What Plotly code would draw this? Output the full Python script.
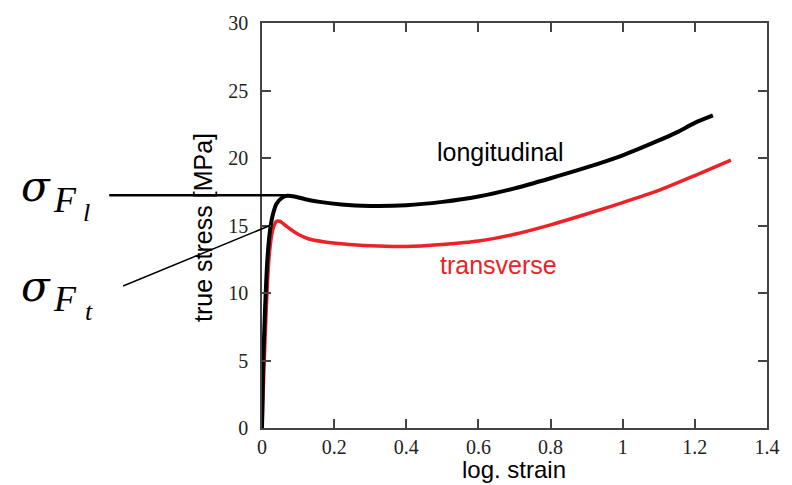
import plotly.graph_objects as go

long_x = [0, 0.003, 0.008, 0.015, 0.022, 0.03, 0.04, 0.055, 0.07, 0.09, 0.12, 0.16, 0.22, 0.3,
          0.4, 0.5, 0.6, 0.7, 0.8, 0.9, 1.0, 1.1, 1.15, 1.2, 1.25]
long_y = [0, 4.5, 8.5, 12.5, 14.6, 15.8, 16.6, 17.05, 17.2, 17.15, 16.95, 16.75, 16.55, 16.45,
          16.5, 16.75, 17.15, 17.75, 18.5, 19.3, 20.2, 21.3, 21.9, 22.6, 23.15]

trans_x = [0, 0.005, 0.012, 0.02, 0.03, 0.04, 0.05, 0.065, 0.08, 0.1, 0.13, 0.17, 0.22, 0.3,
           0.4, 0.5, 0.6, 0.7, 0.8, 0.9, 1.0, 1.1, 1.2, 1.3]
trans_y = [0, 4, 9, 12.8, 14.7, 15.3, 15.3, 15.0, 14.7, 14.35, 14.0, 13.8, 13.65, 13.5,
           13.45, 13.6, 13.85, 14.35, 15.05, 15.85, 16.7, 17.6, 18.7, 19.85]

x_ticks = [0, 0.2, 0.4, 0.6, 0.8, 1, 1.2, 1.4]
x_tick_labels = ["0", "0.2", "0.4", "0.6", "0.8", "1", "1.2", "1.4"]
y_ticks = [0, 5, 10, 15, 20, 25, 30]

RED = "#ec2227"
SERIF = "Liberation Serif"
SANS = "Liberation Sans"

fig = go.Figure()
fig.add_trace(go.Scatter(x=trans_x, y=trans_y, mode="lines",
                         line=dict(color=RED, width=3.5, shape="spline", smoothing=0.6),
                         name="transverse", showlegend=False))
fig.add_trace(go.Scatter(x=long_x, y=long_y, mode="lines",
                         line=dict(color="black", width=4, shape="spline", smoothing=0.6),
                         name="longitudinal", showlegend=False))

W, H = 792, 485
L, R, T, B = 262, 21, 20, 57
pw, ph = W - L - R, H - T - B


def px(x):
    return (x - L) / pw


def py(y):
    return (H - B - y) / ph


axis_common = dict(showline=True, linecolor="#444", linewidth=1.5, mirror="ticks",
                   ticks="inside", ticklen=9, tickwidth=1.5, tickcolor="#444",
                   showgrid=False, zeroline=False,
                   tickfont=dict(family=SERIF, size=20, color="#222"))

fig.update_layout(
    width=W, height=H,
    margin=dict(l=L, r=R, t=T, b=B),
    plot_bgcolor="white", paper_bgcolor="white",
    xaxis=dict(range=[0, 1.4], tickvals=x_ticks, ticktext=x_tick_labels, **axis_common),
    yaxis=dict(range=[0, 30], tickvals=y_ticks, ticklabelstandoff=8, **axis_common),
    showlegend=False,
)


def note(x, y, text, family, size, color="black", angle=0):
    return dict(x=px(x), y=py(y), xref="paper", yref="paper", text=text,
                xanchor="center", yanchor="middle", textangle=angle,
                showarrow=False, font=dict(family=family, size=size, color=color))


ann = [
    note(516, 470, "log. strain", SANS, 24),
    note(203, 226, "true stress [MPa]", SANS, 25, angle=-90),
    note(502, 150, "longitudinal", SANS, 25),
    note(500, 264, "transverse", SANS, 25, RED),
]
for (sy, sub, subx) in [(0, "l", 85), (100, "t", 88)]:
    ann.append(note(34, 185 + sy, "<i>σ</i>", "DejaVu Serif", 42))
    ann.append(note(63, 198 + sy, "<i>F</i>", SERIF, 36))
    ann.append(note(subx, 211 + sy, "<i>" + sub + "</i>", SERIF, 26))
fig.update_layout(annotations=ann)

# pointer lines
fig.add_shape(type="line", xref="paper", yref="paper",
              x0=px(108), y0=py(193.5), x1=0.07 / 1.4, y1=17.25 / 30,
              line=dict(color="black", width=2.5))
fig.add_shape(type="line", xref="paper", yref="paper",
              x0=px(122), y0=py(285), x1=0.022 / 1.4, y1=15.0 / 30,
              line=dict(color="black", width=1.5))

fig.write_html("out.html", config={"displayModeBar": False},
               post_script="document.body.style.margin='0px';")
